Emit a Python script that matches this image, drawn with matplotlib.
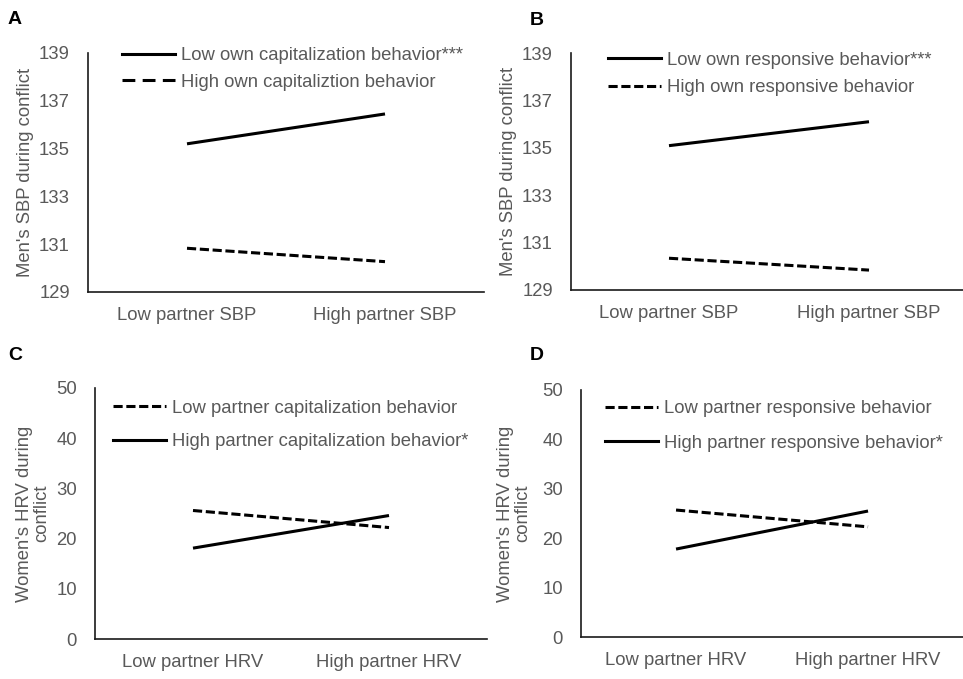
import numpy as np
import matplotlib
matplotlib.use("Agg")
import matplotlib.pyplot as plt
from matplotlib.lines import Line2D

plt.rcParams['font.family'] = ['Liberation Sans', 'DejaVu Sans']

# values
sbp_categories = ["Low partner SBP", "High partner SBP"]
hrv_categories = ["Low partner HRV", "High partner HRV"]

a_low_own_cap = [135.2, 136.45]
a_high_own_cap = [130.83, 130.27]
b_low_own_resp = [135.09, 136.1]
b_high_own_resp = [130.34, 129.84]
c_low_partner_cap = [25.6, 22.2]
c_high_partner_cap = [18.1, 24.6]
d_low_partner_resp = [25.7, 22.3]
d_high_partner_resp = [17.8, 25.5]

sbp_ticks = [129, 131, 133, 135, 137, 139]
hrv_ticks = [0, 10, 20, 30, 40, 50]

W, H = 963, 679
GRAY = '#595959'
FS = 13.3
LW = 2.2
SHORT = (3.0, 1.2)
LONG = (4.2, 2.4)

fig = plt.figure(figsize=(W / 100, H / 100), dpi=100)


def px_axes(left, top, right, bottom):
    return fig.add_axes([left / W, 1 - bottom / H, (right - left) / W, (bottom - top) / H])


def style(ax, cats, ticks, xlim, ylabel, label_x):
    x = np.arange(len(cats)) + 0.5
    ax.set_xticks(x)
    ax.set_xticklabels(cats)
    ax.set_yticks(ticks)
    ax.set_ylim(ticks[0], ticks[-1])
    ax.set_xlim(*xlim)
    for s in ['top', 'right']:
        ax.spines[s].set_visible(False)
    for s in ['left', 'bottom']:
        ax.spines[s].set_color('#1a1a1a')
        ax.spines[s].set_linewidth(1.2)
    ax.tick_params(axis='both', length=0, labelsize=FS, labelcolor=GRAY)
    ax.tick_params(axis='y', pad=13)
    ax.tick_params(axis='x', pad=11)
    ax.set_ylabel(ylabel, fontsize=FS, color=GRAY, va='center', linespacing=1.0)
    ax.yaxis.set_label_coords(label_x, 0.5)
    ax.patch.set_visible(False)


def add_legend(ax, handles, labels, x_px, y_px, spacing):
    ax.legend(handles, labels, loc='center left',
              bbox_to_anchor=(x_px / W, 1 - y_px / H), bbox_transform=fig.transFigure,
              frameon=False, fontsize=FS, labelcolor=GRAY, handlelength=2.85,
              handletextpad=0.36, borderpad=0, borderaxespad=0, labelspacing=spacing)


# Panel A
axA = px_axes(88, 53, 484, 292)
xs = np.arange(len(sbp_categories)) + 0.5
axA.plot(xs, a_low_own_cap, color='black', lw=LW, solid_capstyle='butt')
axA.plot(xs, a_high_own_cap, color='black', lw=LW, dashes=SHORT)
style(axA, sbp_categories, sbp_ticks, (0, 2), "Men's SBP during conflict", -63 / 396)
add_legend(axA,
           [Line2D([], [], color='black', lw=LW),
            Line2D([], [], color='black', lw=LW, dashes=LONG)],
           ["Low own capitalization behavior***", "High own capitaliztion behavior"],
           122, 69, 0.52)

# Panel B
axB = px_axes(571, 53, 963, 290)
axB.plot(xs, b_low_own_resp, color='black', lw=LW, solid_capstyle='butt')
axB.plot(xs, b_high_own_resp, color='black', lw=LW, dashes=SHORT)
style(axB, sbp_categories, sbp_ticks, (0.01, 1.97), "Men's SBP during conflict", -63 / 392)
add_legend(axB,
           [Line2D([], [], color='black', lw=LW),
            Line2D([], [], color='black', lw=LW, dashes=SHORT)],
           ["Low own responsive behavior***", "High own responsive behavior"],
           608, 74, 0.58)

# Panel C
axC = px_axes(95, 388, 487, 639)
xh = np.arange(len(hrv_categories)) + 0.5
axC.plot(xh, c_low_partner_cap, color='black', lw=LW, dashes=SHORT)
axC.plot(xh, c_high_partner_cap, color='black', lw=LW, solid_capstyle='butt')
style(axC, hrv_categories, hrv_ticks, (0, 2), "Women's HRV during\nconflict", -62 / 392)
add_legend(axC,
           [Line2D([], [], color='black', lw=LW, dashes=SHORT),
            Line2D([], [], color='black', lw=LW)],
           ["Low partner capitalization behavior", "High partner capitalization behavior*"],
           113, 425, 0.9)

# Panel D
axD = px_axes(581, 390, 965, 637)
axD.plot(xh, d_low_partner_resp, color='black', lw=LW, dashes=SHORT)
axD.plot(xh, d_high_partner_resp, color='black', lw=LW, solid_capstyle='butt')
style(axD, hrv_categories, hrv_ticks, (0.005, 2.005), "Women's HRV during\nconflict", -67 / 384)
add_legend(axD,
           [Line2D([], [], color='black', lw=LW, dashes=SHORT),
            Line2D([], [], color='black', lw=LW)],
           ["Low partner responsive behavior", "High partner responsive behavior*"],
           605, 426, 0.96)

# panel letters
for letter, xp, yp in [("A", 8, 24), ("B", 530, 25), ("C", 8, 360), ("D", 530, 360)]:
    fig.text(xp / W, 1 - yp / H, letter, fontsize=14, fontweight='bold',
             ha='left', va='baseline', color='black')

fig.savefig("out.png", dpi=100)
